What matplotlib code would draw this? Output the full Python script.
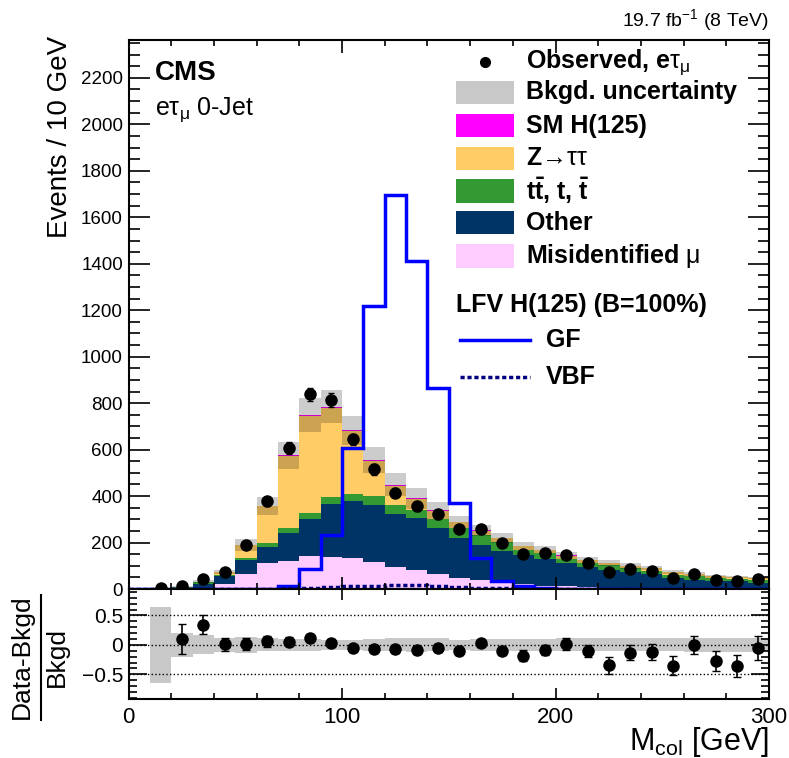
import numpy as np
import matplotlib
matplotlib.use("Agg")
import matplotlib.pyplot as plt
from matplotlib.patches import Rectangle
from matplotlib.lines import Line2D
from matplotlib.ticker import MultipleLocator, FuncFormatter

plt.rcParams['font.family'] = ['Liberation Sans', 'DejaVu Sans']
plt.rcParams['mathtext.fontset'] = 'custom'
plt.rcParams['mathtext.rm'] = 'Liberation Sans'
plt.rcParams['mathtext.it'] = 'Liberation Sans:italic'
plt.rcParams['mathtext.bf'] = 'Liberation Sans:bold'

# 10 GeV bins from 0 to 300
bin_edges = np.arange(0, 310, 10)
bin_centers = bin_edges[:-1] + 5

# backgrounds, events per bin (stack order: bottom to top)
misid_mu = [0, 0.1, 1, 3, 21, 66, 112, 122, 141, 136, 135, 115, 93, 80, 64,
            48, 40, 32, 20, 12, 12, 10, 6, 5, 4, 3, 3, 2, 2, 2]
other = [0, 0.5, 5, 19, 33, 60, 69, 119, 162, 230, 243, 246, 230, 226, 199,
         172, 151, 133, 128, 119, 100, 85, 77, 68, 60, 44, 37, 34, 31, 24]
top_quark = [0, 0.1, 2, 8, 6, 7, 17, 22, 25, 29, 29, 39, 38, 36, 40,
             43, 40, 37, 22, 24, 19, 17, 19, 17, 15, 15, 14, 11, 11, 11]
ztautau = [0, 0.2, 2, 2, 12, 55, 158, 310, 418, 386, 273, 153, 84, 45, 34,
           24, 20, 16, 14, 14, 13, 12, 9, 8, 10, 10, 9, 7, 7, 9]
sm_higgs = [0, 0, 0, 0, 0, 1, 1, 2, 3, 3, 3, 3, 3, 3, 2,
            1, 1, 1, 1, 1, 1, 1, 1, 1, 1, 1, 1, 0.5, 0.5, 0.5]
bkg_unc_frac = [0, 0.65, 0.21, 0.16, 0.12, 0.14, 0.11, 0.10, 0.10, 0.09, 0.09, 0.10, 0.11, 0.12, 0.11,
                0.09, 0.10, 0.10, 0.10, 0.10, 0.11, 0.11, 0.11, 0.11, 0.11, 0.11, 0.12, 0.12, 0.12, 0.12]

# observed data
observed = [np.nan, 3, 11, 43, 73, 191, 378, 608, 838, 814, 644, 515, 414, 356, 321,
            260, 260, 197, 151, 155, 148, 112, 73, 86, 79, 47, 64, 40, 33, 44]
observed_err = [np.nan, 2, 3, 7, 9, 14, 19, 25, 29, 29, 25, 23, 20, 19, 18,
                16, 16, 14, 12, 12, 12, 11, 9, 9, 9, 7, 8, 6, 6, 7]
ratio_err = [np.nan, np.nan, 0.26, 0.16, 0.11, 0.10, 0.09, 0.07, 0.06, 0.06, 0.06, 0.06, 0.06, 0.07, 0.07,
             0.07, 0.07, 0.08, 0.09, 0.09, 0.10, 0.10, 0.14, 0.13, 0.13, 0.16, 0.15, 0.17, 0.18, 0.20]

# LFV signal, B = 100%
lfv_gf = [0, 0, 0, 0, 0, 0, 2, 15, 85, 234, 605, 1217, 1694, 1412, 866,
          372, 133, 33, 12, 3, 1, 0, 0, 0, 0, 0, 0, 0, 0, 0]
lfv_vbf = [0, 0, 0, 0, 0, 0, 1, 3, 6, 9, 11, 12, 17, 16, 11,
           8, 4, 3, 2, 1, 1, 0, 0, 0, 0, 0, 0, 0, 0, 0]

colors = {
    'misid': '#ffccff', 'other': '#003366', 'top': '#339933',
    'ztt': '#ffcc66', 'smh': '#ff00ff', 'unc': '#c8c8c8',
}

W, H = 789, 758
def fx(px):
    return px / W
def fy(py):
    return 1 - py / H

fig = plt.figure(figsize=(W / 100, H / 100), dpi=100)
ax = fig.add_axes([fx(128.5), fy(589), fx(769) - fx(128.5), fy(40) - fy(589)])
axr = fig.add_axes([fx(128.5), fy(699), fx(769) - fx(128.5), fy(589) - fy(699)], sharex=ax)

# stacked backgrounds
base = np.zeros(len(bin_centers))
for vals, col in [(misid_mu, colors['misid']), (other, colors['other']),
                  (top_quark, colors['top']), (ztautau, colors['ztt']),
                  (sm_higgs, colors['smh'])]:
    vals = np.asarray(vals, dtype=float)
    ax.stairs(base + vals, bin_edges, baseline=base, fill=True, color=col, lw=0)
    base = base + vals
total = base
unc = total * np.asarray(bkg_unc_frac)
ax.stairs(total + unc, bin_edges, baseline=total - unc, fill=True,
          color='black', alpha=0.2, lw=0)

# signal
ax.stairs(lfv_gf, bin_edges, color='#0000ff', lw=2.5)
ax.stairs(lfv_vbf, bin_edges, color='#000080', lw=2.5, linestyle=(0, (1.2, 0.8)))

# data
ax.errorbar(bin_centers, observed, yerr=observed_err, fmt='o', color='black',
            ms=8, elinewidth=1.2, capsize=2)

ax.set_xlim(0, 300)
ax.set_ylim(0, 2363)
ax.yaxis.set_major_locator(MultipleLocator(200))
ax.yaxis.set_minor_locator(MultipleLocator(50))
ax.xaxis.set_major_locator(MultipleLocator(100))
ax.xaxis.set_minor_locator(MultipleLocator(20))
ax.tick_params(axis='both', which='both', direction='in', top=True, right=True, width=1.2)
ax.tick_params(axis='y', which='major', length=15, labelsize=13.5, pad=4)
ax.tick_params(axis='y', which='minor', length=8)
ax.tick_params(axis='x', which='major', length=9)
ax.tick_params(axis='x', which='minor', length=4.5)
ax.tick_params(axis='x', labelbottom=False)

# ratio panel
bkg_nz = np.where(total > 0, total, np.nan)
ratio = np.asarray(observed) / bkg_nz - 1
rel_unc = np.asarray(bkg_unc_frac)
axr.stairs(rel_unc[1:], bin_edges[1:], baseline=-rel_unc[1:], fill=True,
           color=colors['unc'], lw=0)
for yv in (0.5, 0, -0.5):
    axr.axhline(yv, color='black', ls=':', lw=1)
axr.errorbar(bin_centers, ratio, yerr=ratio_err, fmt='o', color='black',
             ms=8, elinewidth=1.2, capsize=3)
axr.set_ylim(-0.92, 0.95)
axr.yaxis.set_major_locator(MultipleLocator(0.5))
axr.yaxis.set_minor_locator(MultipleLocator(0.1))
axr.yaxis.set_major_formatter(FuncFormatter(lambda v, p: f'{v:g}'.replace('-', '\u2212')))
axr.tick_params(axis='both', which='both', direction='in', top=True, right=True, width=1.2)
axr.tick_params(axis='y', which='major', length=13, labelsize=15, pad=4)
axr.tick_params(axis='y', which='minor', length=6)
axr.tick_params(axis='x', which='major', length=8, labelsize=16, pad=6)
axr.tick_params(axis='x', which='minor', length=4)

for a in (ax, axr):
    for s in a.spines.values():
        s.set_linewidth(1.5)

# axis titles
fig.text(fx(60), fy(36), 'Events / 10 GeV', rotation=90, ha='center', va='top', fontsize=20)
fig.text(fx(769), fy(750), r'M$_{\mathrm{col}}$ [GeV]', ha='right', va='baseline', fontsize=22)
fig.text(fx(22), fy(657), 'Data-Bkgd', rotation=90, ha='center', va='center', fontsize=19)
fig.add_artist(Line2D([fx(40.7), fx(40.7)], [fy(595), fy(720)], color='black', lw=1.5))
fig.text(fx(57), fy(657), 'Bkgd', rotation=90, ha='center', va='center', fontsize=19)

fig.text(fx(769), fy(20), r'19.7 fb$^{-1}$ (8 TeV)', ha='right', va='center', fontsize=14)
fig.text(fx(155), fy(73), 'CMS', ha='left', va='center', fontsize=20, fontweight='bold')
fig.text(fx(155), fy(110), r'e$\mathrm{\tau_{\mu}}$ 0-Jet', ha='left', va='center', fontsize=18)

# legend, drawn by hand
row_y = [61.7, 92.3, 125.7, 158.3, 191, 222.7, 256]
labels = [r'Observed, e$\mathrm{\tau_{\mu}}$', 'Bkgd. uncertainty', 'SM H(125)',
          'Z\u2192$\\mathrm{\\tau\\tau}$', r't$\mathbf{\bar{t}}$, t, $\mathbf{\bar{t}}$',
          'Other', r'Misidentified $\mathrm{\mu}$']
box_cols = [None, colors['unc'], colors['smh'], colors['ztt'], colors['top'],
            colors['other'], colors['misid']]
for yy, lab, col in zip(row_y, labels, box_cols):
    if col is None:
        fig.add_artist(Line2D([fx(485)], [fy(yy)], marker='o', ms=7, color='black', ls='none'))
    else:
        fig.add_artist(Rectangle((fx(456), fy(yy + 11.5)), fx(514) - fx(456), 23 / H,
                                 facecolor=col, edgecolor='none'))
    fig.text(fx(526), fy(yy), lab, ha='left', va='center', fontsize=18, fontweight='bold')

fig.text(fx(456), fy(305), 'LFV H(125) (B=100%)', ha='left', va='center', fontsize=18, fontweight='bold')
fig.add_artist(Line2D([fx(460), fx(530)], [fy(340), fy(340)], color='#0000ff', lw=2.5))
fig.text(fx(546), fy(340), 'GF', ha='left', va='center', fontsize=18, fontweight='bold')
fig.add_artist(Line2D([fx(460), fx(530)], [fy(376.7), fy(376.7)], color='#000080', lw=2.5,
                      linestyle=(0, (1.2, 0.8))))
fig.text(fx(546), fy(376.7), 'VBF', ha='left', va='center', fontsize=18, fontweight='bold')

fig.savefig('out.png', dpi=100)
